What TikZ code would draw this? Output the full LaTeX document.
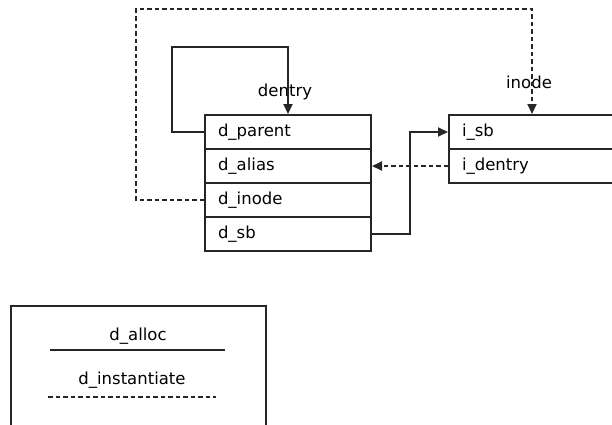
\documentclass[tikz,border=0pt]{standalone}
\usepackage{fontspec}
\setmainfont{DejaVu Sans}
\usetikzlibrary{arrows.meta}
\begin{document}
\begin{tikzpicture}[x=1pt,y=-1pt,
  txt/.style={font=\fontsize{16.5}{18}\selectfont},
  field/.style={txt,draw=black!85,line width=2pt,minimum width=166pt,minimum height=34pt,
    anchor=north west,inner sep=0pt,text width=140pt,align=left},
  conn/.style={draw=black!85,line width=2pt},
  dsh/.style={dash pattern=on 4.5pt off 3pt},
  tip/.style={-{Triangle[length=10pt,width=9pt]}},
  lbl/.style={txt,inner sep=0pt}]
\useasboundingbox (0,0) rectangle (612,424);
% dentry structure
\node[field] (dparent) at (204,114) {d\_parent};
\node[field] (dalias)  at (204,148) {d\_alias};
\node[field] (dinode)  at (204,182) {d\_inode};
\node[field] (dsb)     at (204,216) {d\_sb};
% inode structure (runs past the right edge)
\node[field] (isb)     at (448,114) {i\_sb};
\node[field] (identry) at (448,148) {i\_dentry};
% titles
\node[lbl] (tdentry) at (285,92) {dentry};
\node[lbl] (tinode)  at (529,82) {inode};
% coordinates for the bends
\coordinate (pl) at (172,0);
\coordinate (pt) at (0,47);
\coordinate (il) at (136,0);
\coordinate (it) at (0,9);
\coordinate (sx) at (410,0);
% d_parent points back to the dentry
\draw[conn,tip] (dparent.west) -- (pl |- dparent.west) -- (pl |- pt) -- (288,47) -- (288,114);
% d_inode to inode
\draw[conn,dsh,tip] (dinode.west) -- (il |- dinode.west) -- (il |- it) -- (532,9) -- (532,114);
% d_sb to i_sb
\draw[conn,tip] (dsb.east) -- (sx |- dsb.east) -- (sx |- isb.west) -- (isb.west);
% i_dentry to d_alias
\draw[conn,dsh,tip] (identry.west) -- (dalias.east);
% legend
\node[draw=black!85,line width=2pt,anchor=north west,minimum width=255pt,minimum height=130pt,inner sep=0pt] (legend) at (10,305) {};
\node[lbl] (lalloc) at (138,336) {d\_alloc};
\draw[conn] (50,350) -- (225,350);
\node[lbl] (linst) at (132,380) {d\_instantiate};
\draw[conn,dsh] (48,397) -- (216,397);
\end{tikzpicture}
\end{document}
